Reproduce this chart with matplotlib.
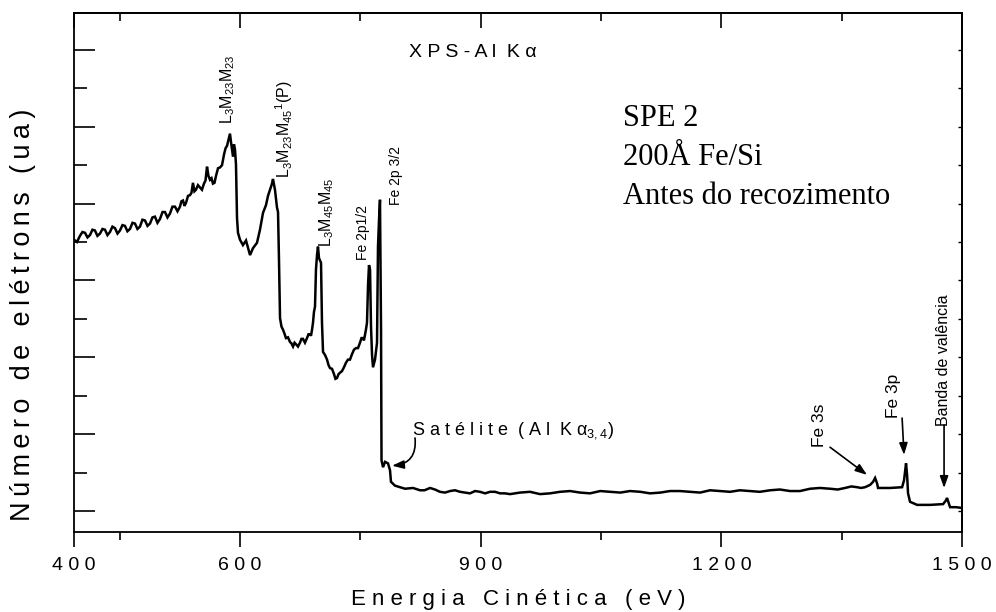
import matplotlib
matplotlib.use('Agg')
import matplotlib.pyplot as plt

plt.rcParams['font.family'] = ['Liberation Sans', 'DejaVu Sans']
plt.rcParams['mathtext.default'] = 'regular'

# ---- data (kinetic energy in eV, intensity in arbitrary units) ----
energy = [393.1, 400.5, 406.8, 413.0, 419.2, 425.5, 431.7, 437.9, 444.2, 450.4,
          456.6, 462.9, 469.1, 475.3, 481.6, 487.8, 494.0, 500.3, 506.5, 512.7,
          519.0, 525.2, 528.9, 532.7, 537.7, 541.4, 545.1, 550.1, 555.1, 558.9,
          562.6, 566.3, 570.1, 575.1, 580.1, 583.8, 586.3, 587.5, 588.8, 591.3,
          592.5, 593.8, 595.0, 596.3, 597.5, 600.0, 603.7, 607.5, 612.5, 616.2,
          621.2, 624.9, 628.7, 632.4, 634.9, 637.4, 639.9, 641.1, 643.6, 646.1,
          647.4, 648.6, 649.9, 653.6, 657.3, 662.3, 666.1, 669.8, 674.8, 678.5,
          683.5, 687.3, 689.8, 691.0, 692.2, 693.5, 694.7, 696.0, 697.2, 698.5,
          701.0, 702.2, 703.5, 708.5, 712.2, 717.2, 720.9, 724.7, 729.6, 734.6,
          739.6, 744.6, 749.6, 753.3, 755.8, 758.3, 759.6, 760.8, 762.1, 763.3,
          764.6, 765.8, 768.3, 770.8, 772.0, 773.3, 774.5, 775.8, 776.4, 778.3,
          780.8, 784.5, 787.0, 788.2, 793.2, 799.5, 805.7, 815.7, 824.4, 836.9,
          849.3, 861.8, 874.3, 886.7, 899.2, 911.7, 924.1, 936.6, 961.5, 986.4,
          1011.4, 1036.3, 1061.2, 1086.2, 1111.1, 1136.0, 1161.0, 1185.9, 1210.8, 1235.8,
          1260.7, 1285.6, 1310.6, 1335.5, 1354.2, 1369.2, 1379.1, 1385.4, 1389.1, 1391.6,
          1394.1, 1395.3, 1410.3, 1425.3, 1427.7, 1430.2, 1431.5, 1432.7, 1435.2, 1444.0,
          1460.2, 1476.4, 1480.1, 1481.3, 1483.8, 1485.1, 1492.6, 1500.0]
intensity = [4.53, 4.58, 4.62, 4.59, 4.65, 4.61, 4.66, 4.63, 4.68, 4.65,
             4.71, 4.67, 4.74, 4.70, 4.78, 4.74, 4.83, 4.80, 4.89, 4.87,
             4.96, 4.96, 5.04, 5.01, 5.11, 5.27, 5.18, 5.21, 5.26, 5.48,
             5.31, 5.26, 5.36, 5.47, 5.64, 5.75, 5.86, 5.91, 5.80, 5.61,
             5.77, 5.70, 5.51, 4.81, 4.62, 4.53, 4.46, 4.52, 4.33, 4.42,
             4.49, 4.66, 4.88, 4.98, 5.10, 5.18, 5.26, 5.32, 5.18, 4.95,
             4.89, 4.27, 3.51, 3.36, 3.25, 3.20, 3.14, 3.17, 3.19, 3.24,
             3.25, 3.30, 3.36, 3.45, 3.59, 3.66, 4.14, 4.33, 4.44, 4.29,
             4.23, 3.45, 3.07, 2.97, 2.86, 2.78, 2.73, 2.80, 2.87, 2.97,
             3.04, 3.12, 3.19, 3.25, 3.29, 3.45, 3.94, 4.20, 4.14, 3.40,
             3.03, 2.87, 2.97, 3.19, 4.44, 4.79, 5.05, 3.36, 1.66, 1.57,
             1.64, 1.62, 1.53, 1.38, 1.33, 1.31, 1.29, 1.30, 1.27, 1.30,
             1.25, 1.26, 1.25, 1.23, 1.25, 1.25, 1.23, 1.22, 1.25, 1.23,
             1.26, 1.23, 1.25, 1.26, 1.23, 1.26, 1.25, 1.27, 1.25, 1.26,
             1.27, 1.26, 1.29, 1.29, 1.30, 1.31, 1.31, 1.34, 1.38, 1.43,
             1.36, 1.30, 1.30, 1.31, 1.40, 1.62, 1.47, 1.23, 1.12, 1.08,
             1.08, 1.09, 1.14, 1.17, 1.09, 1.05, 1.05, 1.04]
# extra readings of the noisy stretches (between the points above)
energy_extra = [396.8, 403.6, 409.9, 416.1, 422.3, 428.6, 434.8, 441.0, 447.3, 453.5,
                459.7, 466.0, 472.2, 478.4, 484.7, 490.9, 497.1, 503.4, 509.6, 515.8,
                522.1, 527.0, 530.8, 535.2, 539.5, 543.2, 547.6, 552.6, 557.0, 560.7,
                564.5, 568.2, 572.6, 577.6, 582.0,
                651.7, 655.4, 659.8, 664.2, 668.0, 672.3, 676.6, 681.0, 685.4, 688.5,
                706.0, 710.3, 714.7, 719.0, 722.8, 727.1, 732.1, 737.1, 742.1, 747.1,
                751.4, 754.5, 757.0,
                830.0, 843.0, 855.5, 868.0, 880.5, 893.0, 905.5, 918.0, 930.0, 949.0,
                974.0, 999.0, 1024.0, 1049.0, 1074.0, 1099.0, 1124.0, 1148.5, 1173.5, 1198.5,
                1223.0, 1248.0, 1273.0, 1298.0, 1323.0, 1345.0, 1362.0, 1374.0]
intensity_extra = [4.50, 4.63, 4.56, 4.66, 4.58, 4.67, 4.59, 4.70, 4.61, 4.72,
                   4.64, 4.75, 4.67, 4.79, 4.71, 4.82, 4.75, 4.89, 4.82, 4.96,
                   4.90, 5.03, 4.97, 5.10, 5.14, 5.16, 5.24, 5.18, 5.30, 5.36,
                   5.33, 5.27, 5.46, 5.50, 5.72,
                   3.40, 3.31, 3.26, 3.18, 3.19, 3.14, 3.24, 3.19, 3.30, 3.28,
                   3.03, 2.90, 2.85, 2.72, 2.78, 2.82, 2.93, 2.97, 3.10, 3.12,
                   3.25, 3.22, 3.36,
                   1.27, 1.28, 1.24, 1.27, 1.24, 1.26, 1.23, 1.25, 1.23, 1.24,
                   1.22, 1.25, 1.24, 1.26, 1.24, 1.25, 1.24, 1.26, 1.24, 1.26,
                   1.27, 1.25, 1.28, 1.26, 1.30, 1.28, 1.32, 1.30]

x_major = [393.1, 600, 900, 1200, 1500]
x_major_labels = ['4 0 0', '6 0 0', '9 0 0', '1 2 0 0', '1 5 0 0']
x_minor = [450, 750, 1050, 1350]
y_major = [1, 2, 3, 4, 5, 6, 7]
y_minor = [1.5, 2.5, 3.5, 4.5, 5.5, 6.5]

# vertical peak labels: (text, energy, intensity at bottom of text, fontsize)
peak_labels = [
    (r'$\mathregular{L_3M_{23}M_{23}}$', 585.0, 6.03, 11.5),
    (r'$\mathregular{L_3M_{23}M_{45}{}^1(P)}$', 654.9, 5.33, 11.5),
    (r'$\mathregular{L_3M_{45}M_{45}}$', 708.5, 4.44, 11.5),
    ('Fe 2p1/2', 753.3, 4.27, 10),
    ('Fe 2p 3/2', 794.5, 4.98, 10),
    ('Fe 3s', 1321.8, 1.83, 12.5),
    ('Fe 3p', 1414.0, 2.21, 12.5),
    ('Banda de valência', 1476.4, 2.11, 11.5),
]
# arrows: (start energy, start intensity, tip energy, tip intensity, curvature)
arrows = [
    (1335.5, 1.83, 1381.6, 1.47, 0.0),
    (1425.3, 2.21, 1427.7, 1.73, 0.0),
    (1477.6, 2.12, 1477.6, 1.30, 0.0),
    (818.2, 1.95, 789.5, 1.59, -0.5),
]
sample_lines = ['SPE 2', '200Å Fe/Si', 'Antes do recozimento']
sample_y = [6.01, 5.505, 5.0]

pts = sorted(zip(energy + energy_extra, intensity + intensity_extra))
xs = [p[0] for p in pts]
ys = [p[1] for p in pts]

fig = plt.figure(figsize=(9.96, 6.12), dpi=100)
ax = fig.add_axes([0.0743, 0.1307, 0.8916, 0.8481])

ax.plot(xs, ys, color='black', lw=1.8, solid_joinstyle='miter')

ax.set_xlim(393.1, 1500)
ax.set_ylim(0.727, 7.48)

ax.set_xticks(x_major)
ax.set_xticklabels(x_major_labels, fontsize=14)
ax.set_xticks(x_minor, minor=True)
ax.set_yticks(y_major)
ax.set_yticks(y_minor, minor=True)
ax.set_yticklabels([])

ax.tick_params(axis='x', which='major', direction='out', length=11, width=1.2, pad=7,
               top=False, bottom=True)
ax.tick_params(axis='x', which='minor', direction='out', length=6, width=1.2,
               top=False, bottom=True)
ax.tick_params(axis='y', which='major', direction='in', length=15, width=1.2,
               left=True, right=False)
ax.tick_params(axis='y', which='minor', direction='in', length=9, width=1.2,
               left=True, right=False)

for s in ax.spines.values():
    s.set_linewidth(1.3)

top = ax.secondary_xaxis('top')
top.set_xticks(x_major)
top.set_xticks(x_minor, minor=True)
top.tick_params(which='major', direction='in', length=11, width=1.2, labeltop=False)
top.tick_params(which='minor', direction='in', length=6, width=1.2, labeltop=False)
top.spines['top'].set_linewidth(1.3)

right = ax.secondary_yaxis('right')
right.set_yticks(y_major)
right.set_yticks(y_minor, minor=True)
right.tick_params(which='both', direction='in', length=3, width=1.0, labelright=False)
right.spines['right'].set_linewidth(1.3)

ax.set_xlabel('E n e r g i a   C i n é t i c a   ( e V )', fontsize=16, labelpad=11)
ylab = '\u2009'.join('Número de elétrons (ua)')
ax.set_ylabel(ylab, fontsize=19.5)
ax.yaxis.set_label_coords(-0.043, 0.418)

ax.text(890.5, 6.91, 'X P S - A l  K α', fontsize=14, ha='center', va='baseline')

for txt, ex, iy, fs in peak_labels:
    ax.text(ex, iy, txt, rotation=90, ha='center', va='bottom', fontsize=fs)

for sx, sy, tx, ty, rad in arrows:
    ax.annotate('', xy=(tx, ty), xytext=(sx, sy),
                arrowprops=dict(arrowstyle='-|>,head_length=0.7,head_width=0.25',
                                color='black', lw=1.2, shrinkA=0, shrinkB=0,
                                connectionstyle=f'arc3,rad={rad}'))

ax.text(814.4, 1.99, r'S a t é l i t e  ( A l  K $\mathregular{\alpha_{3,4}}$)',
        fontsize=13, ha='left', va='baseline')

for line, yy in zip(sample_lines, sample_y):
    ax.text(1077.4, yy, line, fontsize=22, family='Liberation Serif',
            ha='left', va='baseline')

fig.savefig('out.png', dpi=100)
